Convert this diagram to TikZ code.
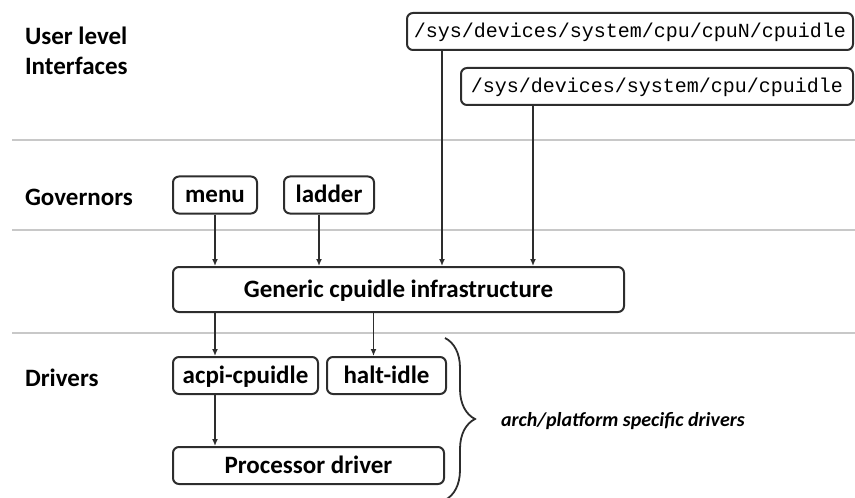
\documentclass[tikz,border=0pt]{standalone}
\usepackage{fontspec}
\setmainfont{Carlito}
\setmonofont{Liberation Mono}
\usetikzlibrary{arrows.meta,positioning,decorations.pathreplacing}
\definecolor{boxline}{RGB}{45,45,45}
\definecolor{sepgray}{RGB}{200,200,200}
\tikzset{
    box/.style={rectangle, draw=boxline, line width=1pt, rounded corners=3pt,
                minimum height=18.5pt, inner sep=0pt, text height=9pt, text depth=1pt,
                font=\fontsize{12.5}{15}\selectfont\bfseries},
    pathbox/.style={box, text height=7pt, text depth=1pt,
                    font=\fontsize{10}{12}\selectfont\ttfamily},
    lvl/.style={anchor=west, align=left, font=\fontsize{12.5}{15}\selectfont\bfseries},
    sep/.style={draw=sepgray, line width=1pt},
    arr/.style={-{Latex[length=3.5pt,width=3pt]}, line width=0.75pt, draw=boxline},
    brc/.style={decorate, decoration={brace, amplitude=15pt}, line width=0.9pt, draw=boxline},
    lbl/.style={anchor=west, font=\fontsize{10}{12}\selectfont\bfseries\itshape},
}
\begin{document}
\begin{tikzpicture}[x=0.5pt, y=-0.5pt]
    \useasboundingbox (0,0) rectangle (855,497);
    \draw[sep] (12,140) -- (855,140);
    \draw[sep] (12,230) -- (855,230);
    \draw[sep] (12,333) -- (855,333);

    \node[lvl] (user) at (18,51) {User level\\Interfaces};
    \node[lvl] (govlbl) at (18,197) {Governors};
    \node[lvl] (drvlbl) at (18,378) {Drivers};

    \node[pathbox, minimum width=223pt] (cpun)   at (630,31.5) {/sys/devices/system/cpu/cpuN/cpuidle};
    \node[pathbox, minimum width=196pt] (cpuall) at (657,86.5) {/sys/devices/system/cpu/cpuidle};

    \node[box, minimum width=42pt] (menu) at (215,195) {menu};
    \node[box, minimum width=45pt, right=12.5pt of menu] (ladder) {ladder};
    \node[box, minimum width=225.5pt, minimum height=22.5pt] (gen) at (398.5,289.5) {Generic cpuidle infrastructure};
    \node[box, minimum width=72.5pt] (acpi) at (245.5,375.5) {acpi-cpuidle};
    \node[box, minimum width=59.5pt, right=3.5pt of acpi] (halt) {halt-idle};
    \node[box, minimum width=135.5pt] (proc) at (308.5,465.5) {Processor driver};

    \draw[arr] (menu) -- (menu |- gen.north);
    \draw[arr] ([xshift=-5pt]ladder.south) -- ([xshift=-5pt]ladder.south |- gen.north);
    \draw[arr] ([xshift=18pt]cpun.south west) -- ([xshift=18pt]cpun.south west |- gen.north);
    \draw[arr] ([xshift=36.5pt]cpuall.south west) -- ([xshift=36.5pt]cpuall.south west |- gen.north);
    \draw[arr] (gen.south -| menu) -- (acpi.north -| menu);
    \draw[arr] ([xshift=-6.5pt]halt.north |- gen.south) -- ([xshift=-6.5pt]halt.north);
    \draw[arr] (acpi.south -| menu) -- (proc.north -| menu);

    \draw[brc] (445,338) -- (445,500);
    \node[lbl] (arch) at (494,421) {arch/platform specific drivers};
\end{tikzpicture}
\end{document}
